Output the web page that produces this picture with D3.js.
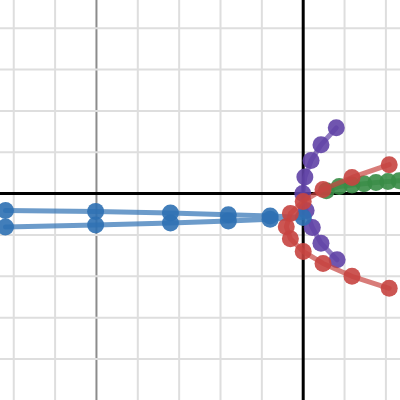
<!DOCTYPE html>
<html><head><meta charset="utf-8">
<script src="https://cdn.jsdelivr.net/npm/d3@7"></script>
<style>html,body{margin:0;padding:0;background:#fff;overflow:hidden}</style>
</head><body>
<svg id="c" width="400" height="400"></svg>
<script>
// Series data (graph units)
const blueX   = [-7.2, -5.02, -3.21, -1.81, -0.80, 0.0, -0.80, -1.81, -3.21, -5.02, -7.2];
const blueY   = [-0.41, -0.43, -0.47, -0.51, -0.54, -0.58, -0.62, -0.66, -0.71, -0.76, -0.81];
const purpleX = [0.80, 0.43, 0.19, 0.04, -0.01, 0.07, 0.22, 0.43, 0.82];
const purpleY = [1.59, 1.18, 0.80, 0.40, 0.0, -0.41, -0.82, -1.20, -1.60];
const redX    = [2.08, 1.18, 0.48, 0.0, -0.31, -0.41, -0.31, 0.0, 0.48, 1.18, 2.08];
const redY    = [0.70, 0.39, 0.10, -0.19, -0.48, -0.80, -1.09, -1.40, -1.69, -2.00, -2.29];
const greenX  = [0.56, 0.87, 1.18, 1.47, 1.76, 2.05, 2.32, 2.60];
const greenY  = [0.07, 0.17, 0.21, 0.24, 0.27, 0.29, 0.31, 0.33];
const gridXTicks = d3.range(-7, 3);
const gridYTicks = d3.range(-4, 5);

const W = 400, H = 400;
const unit = 41.35, ox = 303.2, oy = 193.6;
const x = d3.scaleLinear().domain([-ox/unit, (W-ox)/unit]).range([0, W]);
const y = d3.scaleLinear().domain([(oy-H)/unit, oy/unit]).range([H, 0]);

const svg = d3.select('#c');

// grid
svg.append('g').selectAll('line').data(gridXTicks.filter(d => d !== 0)).join('line')
  .attr('x1', d => x(d)).attr('x2', d => x(d)).attr('y1', 0).attr('y2', H)
  .attr('stroke', d => d % 5 === 0 ? '#8c8c8c' : '#dedede')
  .attr('stroke-width', 2);
svg.append('g').selectAll('line').data(gridYTicks.filter(d => d !== 0)).join('line')
  .attr('y1', d => y(d)).attr('y2', d => y(d)).attr('x1', 0).attr('x2', W)
  .attr('stroke', d => d % 5 === 0 ? '#8c8c8c' : '#dedede')
  .attr('stroke-width', 2);

// axes
svg.append('line').attr('x1', x(0)).attr('x2', x(0)).attr('y1', 0).attr('y2', H)
  .attr('stroke', '#000').attr('stroke-width', 3);
svg.append('line').attr('y1', y(0)).attr('y2', y(0)).attr('x1', 0).attr('x2', W)
  .attr('stroke', '#000').attr('stroke-width', 3);

const series = [
  {xs: greenX, ys: greenY, color: '#388c46'},
  {xs: purpleX, ys: purpleY, color: '#6042a6'},
  {xs: blueX, ys: blueY, color: '#2d70b3'},
  {xs: redX, ys: redY, color: '#c74440'}
];

const line = d3.line().x(d => x(d[0])).y(d => y(d[1]));
series.forEach(s => {
  const pts = s.xs.map((v, i) => [v, s.ys[i]]);
  const g = svg.append('g');
  g.append('path').datum(pts).attr('d', line)
    .attr('fill', 'none').attr('stroke', s.color).attr('stroke-width', 5)
    .attr('stroke-opacity', 0.7).attr('stroke-linejoin', 'round').attr('stroke-linecap', 'round');
  g.selectAll('circle').data(pts).join('circle')
    .attr('cx', d => x(d[0])).attr('cy', d => y(d[1])).attr('r', 8.5)
    .attr('fill', s.color).attr('fill-opacity', 0.9);
});
</script>
</body></html>
